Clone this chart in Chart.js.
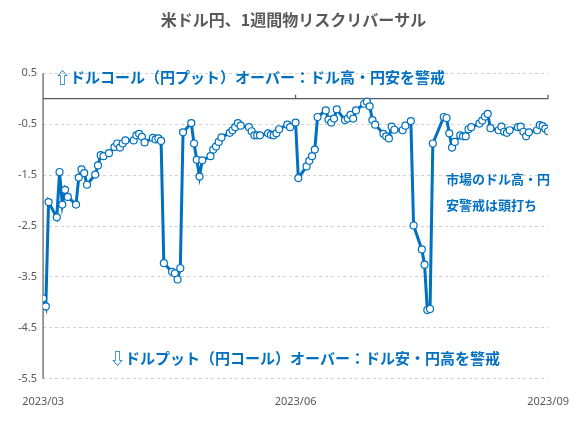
<!DOCTYPE html>
<html>
<head>
<meta charset="utf-8">
<script src="https://cdn.jsdelivr.net/npm/chart.js@4/dist/chart.umd.min.js"></script>
<style>
  body { margin: 0; background: #fff; }
  #wrap { width: 577px; height: 426px; }
</style>
</head>
<body>
<div id="wrap"><canvas id="c"></canvas></div>
<script>
// days since 2023/03/01
const days = [0, 1, 2, 5, 6, 7, 8, 9, 12, 13, 14, 15, 16, 19, 20, 21, 22, 24, 26, 27, 28, 29, 30,
  33, 34, 35, 36, 37, 40, 41, 42, 43, 44, 47, 48, 49, 50, 51, 54, 55, 56, 57, 58, 61, 62, 63, 64, 65,
  68, 69, 70, 71, 72, 75, 76, 77, 78, 79, 82, 83, 84, 85, 86, 89, 90, 92, 93, 96, 97, 98, 99, 100,
  103, 104, 105, 106, 107, 110, 111, 112, 113, 114, 117, 118, 119, 120, 121, 124, 125, 126, 127, 128,
  131, 132, 134, 135, 138, 139, 140, 141, 142, 146, 147, 148, 149, 150, 152, 153, 154, 155, 156,
  159, 160, 161, 162, 163, 166, 167, 168, 169, 170, 173, 174, 175, 176, 177, 180, 181, 182, 183, 184];
const riskReversal = [-3.92, -4.08, -2.03, -2.33, -1.44, -2.08, -1.79, -1.93, -2.08, -1.55, -1.39, -1.46, -1.69,
  -1.49, -1.31, -1.11, -1.13, -1.07, -0.95, -0.88, -0.96, -0.88, -0.82,
  -0.82, -0.72, -0.69, -0.75, -0.86, -0.77, -0.80, -0.78, -0.83, -3.23, -3.40, -3.43, -3.55, -3.33, -0.66,
  -0.48, -0.88, -1.20, -1.53, -1.21, -1.13, -1.00, -0.94, -0.85, -0.76,
  -0.67, -0.62, -0.56, -0.48, -0.53, -0.56, -0.64, -0.72, -0.72, -0.72, -0.68, -0.71, -0.72, -0.68, -0.60,
  -0.51, -0.56, -0.47, -1.56, -1.33, -1.22, -1.13, -1.00, -0.36,
  -0.23, -0.41, -0.47, -0.39, -0.21, -0.42, -0.39, -0.32, -0.39, -0.23, -0.10, -0.06, -0.15, -0.42, -0.51,
  -0.69, -0.74, -0.78, -0.55, -0.61,
  -0.62, -0.53, -0.44, -2.49, -2.96, -3.26, -4.15, -4.13, -0.88, -0.36, -0.38, -0.68, -0.96, -0.85,
  -0.72, -0.74, -0.74, -0.60, -0.56,
  -0.49, -0.43, -0.35, -0.30, -0.58, -0.62, -0.55, -0.65, -0.67, -0.62, -0.56, -0.55, -0.65, -0.74, -0.66,
  -0.62, -0.52, -0.54, -0.59, -0.64];
const monthTicks = [0, 92, 184];
const monthLabels = ["2023/03", "2023/06", "2023/09"];
const yTicks = [0.5, -0.5, -1.5, -2.5, -3.5, -4.5, -5.5];

const blue = "#0070c0";

const notes = {
  id: "notes",
  afterDraw(chart) {
    const { ctx, chartArea: a, scales } = chart;
    ctx.save();
    ctx.fillStyle = blue;
    ctx.font = "bold 15px 'Noto Sans CJK JP'";
    ctx.textBaseline = "middle";
    ctx.textAlign = "left";
    ctx.fillText("⇧ドルコール（円プット）オーバー：ドル高・円安を警戒", a.left + 12, a.top + 4);
    ctx.textAlign = "right";
    ctx.fillText("⇩ドルプット（円コール）オーバー：ドル安・円高を警戒", a.right - 48, scales.y.getPixelForValue(-5.1));
    ctx.font = "bold 13px 'Noto Sans CJK JP'";
    ctx.textAlign = "left";
    ctx.fillText("市場のドル高・円", 446, scales.y.getPixelForValue(-1.58));
    ctx.fillText("安警戒は頭打ち", 446, scales.y.getPixelForValue(-2.08));
    ctx.restore();
  }
};

const axisLines = {
  id: "axisLines",
  beforeDatasetsDraw(chart) {
    const { ctx, chartArea: a, scales } = chart;
    const y0 = scales.y.getPixelForValue(0);
    ctx.save();
    ctx.strokeStyle = "#595959";
    ctx.lineWidth = 1.2;
    ctx.beginPath();
    ctx.moveTo(a.left, y0);
    ctx.lineTo(a.right, y0);
    monthTicks.forEach((v) => {
      const x = scales.x.getPixelForValue(v);
      ctx.moveTo(x, y0);
      ctx.lineTo(x, y0 - 4);
    });
    ctx.moveTo(a.left, a.top);
    ctx.lineTo(a.left, a.bottom);
    ctx.stroke();
    ctx.restore();
  }
};

new Chart(document.getElementById("c"), {
  type: "line",
  data: {
    datasets: [{
      data: days.map((d, i) => ({ x: d, y: riskReversal[i] })),
      borderColor: blue,
      borderWidth: 3,
      pointRadius: 3.5,
      pointBorderWidth: 1.2,
      pointBackgroundColor: "#fff",
      pointBorderColor: blue,
      tension: 0
    }]
  },
  options: {
    responsive: true,
    maintainAspectRatio: false,
    animation: false,
    layout: { padding: { left: 12, right: 2, top: 0, bottom: 10 } },
    plugins: {
      legend: { display: false },
      tooltip: { enabled: false },
      title: {
        display: true,
        text: "米ドル円、1週間物リスクリバーサル",
        color: "#595959",
        font: { family: "'Noto Sans CJK JP'", size: 16, weight: "bold" },
        padding: { top: 10, bottom: 44 }
      }
    },
    scales: {
      x: {
        type: "linear",
        min: 0,
        max: 184,
        afterBuildTicks: (s) => { s.ticks = monthTicks.map((v) => ({ value: v })); },
        ticks: {
          callback: (v) => monthLabels[monthTicks.indexOf(v)],
          color: "#595959",
          font: { family: "'Noto Sans'", size: 11 },
          maxRotation: 0,
          padding: 8
        },
        grid: { display: false },
        border: { display: false }
      },
      y: {
        min: -5.5,
        max: 0.5,
        afterBuildTicks: (s) => { s.ticks = yTicks.map((v) => ({ value: v })); },
        ticks: {
          callback: (v) => String(v),
          color: "#595959",
          font: { family: "'Noto Sans'", size: 11 },
          padding: 6
        },
        grid: {
          color: "#d0d0d0",
          drawTicks: false
        },
        border: { display: false, dash: [3, 3] }
      }
    }
  },
  plugins: [notes, axisLines]
});
</script>
</body>
</html>
